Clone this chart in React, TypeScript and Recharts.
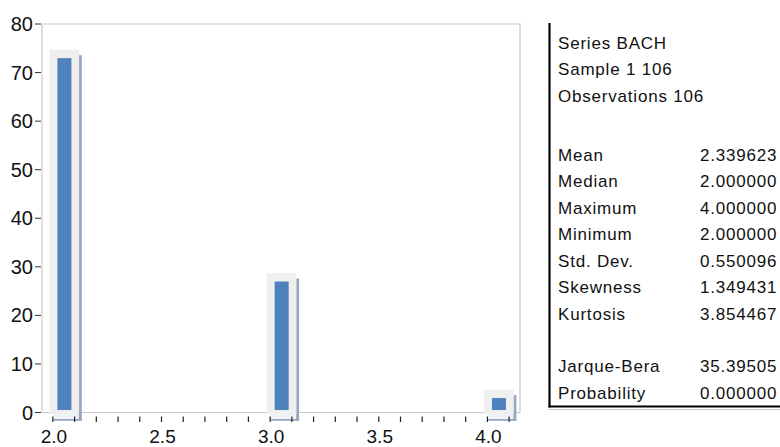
import React from "react";
import { BarChart, Bar, XAxis, YAxis, ReferenceArea } from "recharts";

// histogram bins (left edge) and counts
const binStarts = [2.0, 3.0, 4.0];
const counts = [74, 28, 4];
const binWidth = 0.1;

const yTicks = [0, 10, 20, 30, 40, 50, 60, 70, 80];
const xTicks = [
  2.0, 2.1, 2.2, 2.3, 2.4, 2.5, 2.6, 2.7, 2.8, 2.9, 3.0,
  3.1, 3.2, 3.3, 3.4, 3.5, 3.6, 3.7, 3.8, 3.9, 4.0, 4.1,
];
const xLabels = ["2.0", "2.5", "3.0", "3.5", "4.0"];

const statHeader = ["Series BACH", "Sample 1 106", "Observations 106"];
const statNames = ["Mean", "Median", "Maximum", "Minimum", "Std. Dev.", "Skewness", "Kurtosis"];
const statValues = ["2.339623", "2.000000", "4.000000", "2.000000", "0.550096", "1.349431", "3.854467"];
const testNames = ["Jarque-Bera", "Probability"];
const testValues = ["35.39505", "0.000000"];

const data = binStarts.map((s, i) => ({ center: s + binWidth / 2, count: counts[i] }));

const W = 780;
const H = 447;
const PLOT_LEFT = 42;
const PLOT_RIGHT = 520;
const PLOT_TOP = 24;
const PLOT_BOTTOM = 412.5;
const X_MIN = 1.95;
const X_MAX = 4.15;
const BIN_PX = (binWidth * (PLOT_RIGHT - PLOT_LEFT)) / (X_MAX - X_MIN);

const FONT = "'Liberation Sans', Arial, sans-serif";

const BarShape = (p: any) => {
  if (p.height == null || p.width == null) return null;
  const cx = p.x + p.width / 2;
  const left = cx - BIN_PX / 2;
  const right = cx + BIN_PX / 2;
  const top = p.y;
  const base = p.y + p.height;
  return (
    <g>
      {/* soft shadow behind the bar */}
      <rect x={left} y={base + 1} width={right + 4 - left} height={6} fill="#eef1f5" />
      <rect x={right + 4} y={top + 2} width={3} height={base + 8 - (top + 2)} fill="#98a6bf" />
      <rect x={left + 0.5} y={base + 6.5} width={right + 7 - (left + 0.5)} height={1.8} fill="#98a6bf" />
      {/* light frame */}
      <rect x={left - 3.7} y={top - 3.5} width={BIN_PX + 8} height={base + 1.5 - (top - 3.5)} fill="#efefef" />
      {/* the bar itself */}
      <rect x={left + 4.3} y={top + 5} width={BIN_PX - 7.7} height={base - 2.5 - (top + 5)} fill="#4f81bd" />
    </g>
  );
};

const YTick = (p: any) => {
  const { x, y, payload } = p;
  return (
    <g>
      <line x1={x - 7} x2={x - 1} y1={y} y2={y} stroke="#333" strokeWidth={1} />
      <text x={x - 9} y={y} textAnchor="end" dominantBaseline="central" fontSize={20} fill="#111" fontFamily={FONT}>
        {payload.value}
      </text>
    </g>
  );
};

const XTick = (p: any) => {
  const { x, y, payload } = p;
  const lbl = payload.value.toFixed(1);
  const show = xLabels.includes(lbl);
  return (
    <g>
      <line x1={x} x2={x} y1={y + 4} y2={y + 9.5} stroke="#222" strokeWidth={1.2} />
      {show && (
        <text x={x + 1} y={y + 30} textAnchor="middle" fontSize={19} fill="#111" fontFamily={FONT}>
          {lbl}
        </text>
      )}
    </g>
  );
};

const StatsPanel = () => {
  const txt = { fontSize: 17, fontFamily: FONT, fill: "#111", letterSpacing: 0.8 } as const;
  const headerY = [48.5, 75, 101.5];
  const statY = [160.5, 187, 213.5, 240, 266.5, 293, 319.5];
  const testY = [372, 398.5];
  return (
    <svg width={W} height={H} style={{ position: "absolute", left: 0, top: 0, pointerEvents: "none" }}>
      <line x1={549.5} x2={549.5} y1={23} y2={407.5} stroke="#000" strokeWidth={2.2} />
      <line x1={548.5} x2={W} y1={406.5} y2={406.5} stroke="#000" strokeWidth={2} />
      <line x1={548} x2={W} y1={409.5} y2={409.5} stroke="#c8c8c8" strokeWidth={1} />
      {statHeader.map((s, i) => (
        <text key={s} x={558} y={headerY[i]} {...txt}>{s}</text>
      ))}
      {statNames.map((s, i) => (
        <g key={s}>
          <text x={558} y={statY[i]} {...txt}>{s}</text>
          <text x={700} y={statY[i]} {...txt}>{statValues[i]}</text>
        </g>
      ))}
      {testNames.map((s, i) => (
        <g key={s}>
          <text x={558} y={testY[i]} {...txt}>{s}</text>
          <text x={700} y={testY[i]} {...txt}>{testValues[i]}</text>
        </g>
      ))}
    </svg>
  );
};

export default function App() {
  return (
    <div style={{ position: "absolute", left: 0, top: 0, width: W, height: H, background: "#fff", overflow: "hidden" }}>
      <BarChart
        width={W}
        height={H}
        data={data}
        margin={{ top: PLOT_TOP, right: W - PLOT_RIGHT, bottom: 0, left: 0 }}
      >
        <XAxis
          type="number"
          dataKey="center"
          domain={[X_MIN, X_MAX]}
          ticks={xTicks}
          interval={0}
          height={H - PLOT_BOTTOM}
          tickSize={0}
          tickMargin={0}
          axisLine={false}
          tick={<XTick />}
        />
        <YAxis
          type="number"
          domain={[0, 80]}
          ticks={yTicks}
          width={PLOT_LEFT}
          tickSize={0}
          tickMargin={0}
          axisLine={false}
          tick={<YTick />}
        />
        <ReferenceArea
          x1={X_MIN}
          x2={X_MAX}
          y1={0}
          y2={80}
          fill="none"
          stroke="#c8c8c8"
          strokeWidth={1.2}
          ifOverflow="visible"
        />
        <Bar dataKey="count" barSize={BIN_PX} shape={<BarShape />} isAnimationActive={false} />
      </BarChart>
      <StatsPanel />
    </div>
  );
}
